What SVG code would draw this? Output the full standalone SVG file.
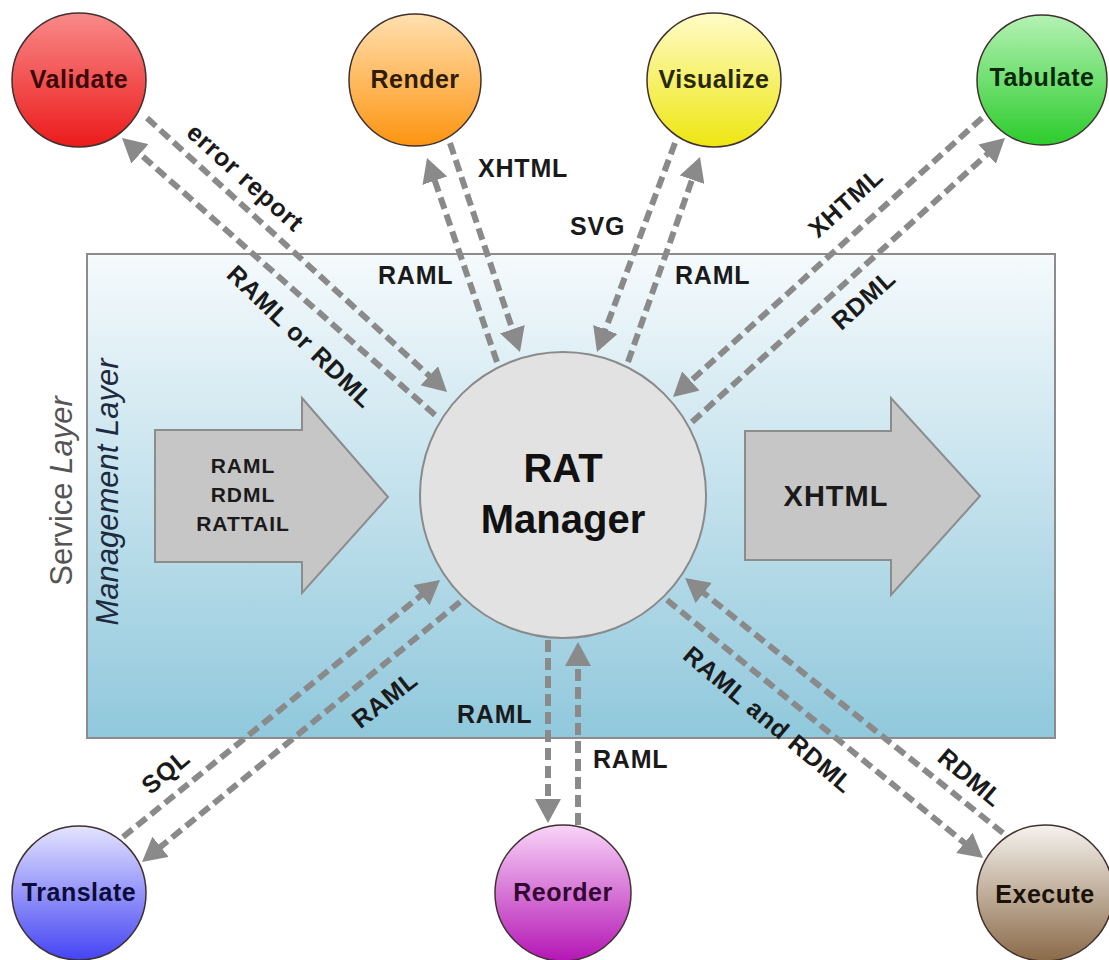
<svg xmlns="http://www.w3.org/2000/svg" width="1109" height="960" viewBox="0 0 1109 960">
  <defs>
    <linearGradient id="gBox" x1="0" y1="0" x2="0" y2="1">
      <stop offset="0" stop-color="#f5fafc"/>
      <stop offset="1" stop-color="#90c8dc"/>
    </linearGradient>
    <linearGradient id="gRed" x1="0" y1="0" x2="0" y2="1">
      <stop offset="0" stop-color="#f98a8a"/>
      <stop offset="1" stop-color="#ec1a1a"/>
    </linearGradient>
    <linearGradient id="gOrange" x1="0" y1="0" x2="0" y2="1">
      <stop offset="0" stop-color="#ffe0b0"/>
      <stop offset="1" stop-color="#fd9410"/>
    </linearGradient>
    <linearGradient id="gYellow" x1="0" y1="0" x2="0" y2="1">
      <stop offset="0" stop-color="#fffcc8"/>
      <stop offset="1" stop-color="#eee610"/>
    </linearGradient>
    <linearGradient id="gGreen" x1="0" y1="0" x2="0" y2="1">
      <stop offset="0" stop-color="#b4f2b4"/>
      <stop offset="1" stop-color="#2ccc2c"/>
    </linearGradient>
    <linearGradient id="gBlue" x1="0" y1="0" x2="0" y2="1">
      <stop offset="0" stop-color="#e4e4ff"/>
      <stop offset="1" stop-color="#4444f4"/>
    </linearGradient>
    <linearGradient id="gPurple" x1="0" y1="0" x2="0" y2="1">
      <stop offset="0" stop-color="#f8d4f8"/>
      <stop offset="1" stop-color="#b416b4"/>
    </linearGradient>
    <linearGradient id="gBrown" x1="0" y1="0" x2="0" y2="1">
      <stop offset="0" stop-color="#f6f2ee"/>
      <stop offset="1" stop-color="#8a6a48"/>
    </linearGradient>
    <marker id="head" markerUnits="userSpaceOnUse" markerWidth="26" markerHeight="26" refX="8" refY="13" orient="auto">
      <path d="M0,0 L24,13 L0,26 z" fill="#8a8a8a"/>
    </marker>
    <style>
      .layer-box { fill: url(#gBox); stroke: #8c8c8c; stroke-width: 2; }
      .big-arrow { fill: #c6c6c6; stroke: #8c8c8c; stroke-width: 2; }
      .conn { stroke: #8a8a8a; stroke-width: 6; stroke-dasharray: 12 6; fill: none; marker-end: url(#head); }
      .node { stroke: #403030; stroke-width: 1.5; }
      .node-label { font-family: "Liberation Sans", Arial, sans-serif; font-weight: bold; font-size: 25px; letter-spacing: 0.5px; text-anchor: middle; }
      .label { font-family: "Liberation Sans", Arial, sans-serif; font-weight: bold; font-size: 25px; letter-spacing: 0.8px; fill: #1a1a1a; }
      .mid { text-anchor: middle; }
      .manager { fill: #e2e2e2; stroke: #8a8a8a; stroke-width: 2; }
      .manager-label { font-family: "Liberation Sans", Arial, sans-serif; font-weight: bold; font-size: 40px; fill: #111; text-anchor: middle; }
      .arrow-text { font-family: "Liberation Sans", Arial, sans-serif; font-weight: bold; fill: #1a1a1a; text-anchor: middle; }
      .layer-title { font-family: "Liberation Sans", Arial, sans-serif; font-size: 31px; text-anchor: middle; }
    </style>
  </defs>

  <rect width="1109" height="960" fill="#ffffff"/>

  <!-- Service layer frame -->
  <g id="service-layer">
    <rect class="layer-box" x="87" y="254" width="968" height="484"/>
    <text class="layer-title" fill="#555555" transform="translate(72,491) rotate(-90)">Service <tspan font-style="italic">Layer</tspan></text>
    <text class="layer-title" fill="#1e2a40" font-style="italic" font-size="30" transform="translate(118,492) rotate(-90)">Management Layer</text>
  </g>

  <!-- Input / output block arrows -->
  <g id="input-arrow">
    <polygon class="big-arrow" points="155,430 302,430 302,398 388,497 302,593 302,562 155,562"/>
    <text class="arrow-text" font-size="21" letter-spacing="1" x="243" y="473">RAML</text>
    <text class="arrow-text" font-size="21" letter-spacing="1" x="243" y="502">RDML</text>
    <text class="arrow-text" font-size="21" letter-spacing="1" x="243" y="531">RATTAIL</text>
  </g>
  <g id="output-arrow">
    <polygon class="big-arrow" points="745,431 891,431 891,398 980,496 891,595 891,560 745,560"/>
    <text class="arrow-text" font-size="29" letter-spacing="1" x="836" y="506">XHTML</text>
  </g>

  <!-- Connectors -->
  <g id="connectors">
    <line class="conn" x1="147" y1="118" x2="435.2" y2="381.2"/>
    <line class="conn" x1="435" y1="415" x2="134.0" y2="148.6"/>
    <line class="conn" x1="450" y1="143" x2="514.9" y2="336.8"/>
    <line class="conn" x1="497" y1="362" x2="432.2" y2="173.1"/>
    <line class="conn" x1="675" y1="143" x2="602.6" y2="337.0"/>
    <line class="conn" x1="628" y1="362" x2="694.7" y2="172.1"/>
    <line class="conn" x1="982" y1="118" x2="684.9" y2="386.3"/>
    <line class="conn" x1="692" y1="422" x2="993.1" y2="148.8"/>
    <line class="conn" x1="123" y1="837" x2="427.6" y2="590.1"/>
    <line class="conn" x1="460" y1="602" x2="154.4" y2="851.9"/>
    <line class="conn" x1="548" y1="640" x2="548" y2="807"/>
    <line class="conn" x1="578" y1="825" x2="578" y2="658"/>
    <line class="conn" x1="667" y1="600" x2="970.6" y2="847.9"/>
    <line class="conn" x1="1003" y1="833" x2="697.5" y2="588.0"/>

    <!-- connector labels -->
    <text class="label mid" transform="translate(245,178) rotate(42)" y="8">error report</text>
    <text class="label mid" transform="translate(300,337) rotate(44)" y="8">RAML or RDML</text>
    <text class="label" x="478" y="177">XHTML</text>
    <text class="label" x="378" y="284">RAML</text>
    <text class="label" x="570" y="235">SVG</text>
    <text class="label" x="675" y="284">RAML</text>
    <text class="label mid" transform="translate(846,203) rotate(-42)" y="8">XHTML</text>
    <text class="label mid" transform="translate(864,300) rotate(-42)" y="8">RDML</text>
    <text class="label mid" transform="translate(166,772) rotate(-40)" y="8">SQL</text>
    <text class="label mid" transform="translate(385,700) rotate(-38)" y="8">RAML</text>
    <text class="label" x="457" y="723">RAML</text>
    <text class="label" x="593" y="768">RAML</text>
    <text class="label mid" transform="translate(768,720) rotate(40)" y="8">RAML and RDML</text>
    <text class="label mid" transform="translate(970,778) rotate(40)" y="8">RDML</text>
  </g>

  <!-- Central manager -->
  <g id="rat-manager">
    <circle class="manager" cx="563" cy="495" r="143"/>
    <text class="manager-label" x="563" y="482">RAT</text>
    <text class="manager-label" x="563" y="533">Manager</text>
  </g>

  <!-- Service nodes -->
  <g id="validate">
    <circle class="node" cx="79" cy="80" r="67" fill="url(#gRed)"/>
    <text class="node-label" x="79" y="88" fill="#3a0808">Validate</text>
  </g>
  <g id="render">
    <circle class="node" cx="415" cy="80" r="66" fill="url(#gOrange)"/>
    <text class="node-label" x="415" y="88" fill="#2e1c04">Render</text>
  </g>
  <g id="visualize">
    <circle class="node" cx="714" cy="80" r="67" fill="url(#gYellow)"/>
    <text class="node-label" x="714" y="88" fill="#28280a">Visualize</text>
  </g>
  <g id="tabulate">
    <circle class="node" cx="1042" cy="80" r="65" fill="url(#gGreen)"/>
    <text class="node-label" x="1042" y="86" font-size="20" fill="#0c280c">Tabulate</text>
  </g>
  <g id="translate">
    <circle class="node" cx="79" cy="893" r="67" fill="url(#gBlue)"/>
    <text class="node-label" x="79" y="901" fill="#0c0c38">Translate</text>
  </g>
  <g id="reorder">
    <circle class="node" cx="563" cy="893" r="68" fill="url(#gPurple)"/>
    <text class="node-label" x="563" y="901" fill="#300830">Reorder</text>
  </g>
  <g id="execute">
    <circle class="node" cx="1045" cy="893" r="68" fill="url(#gBrown)"/>
    <text class="node-label" x="1045" y="903" font-size="26" fill="#1a1208">Execute</text>
  </g>
</svg>
